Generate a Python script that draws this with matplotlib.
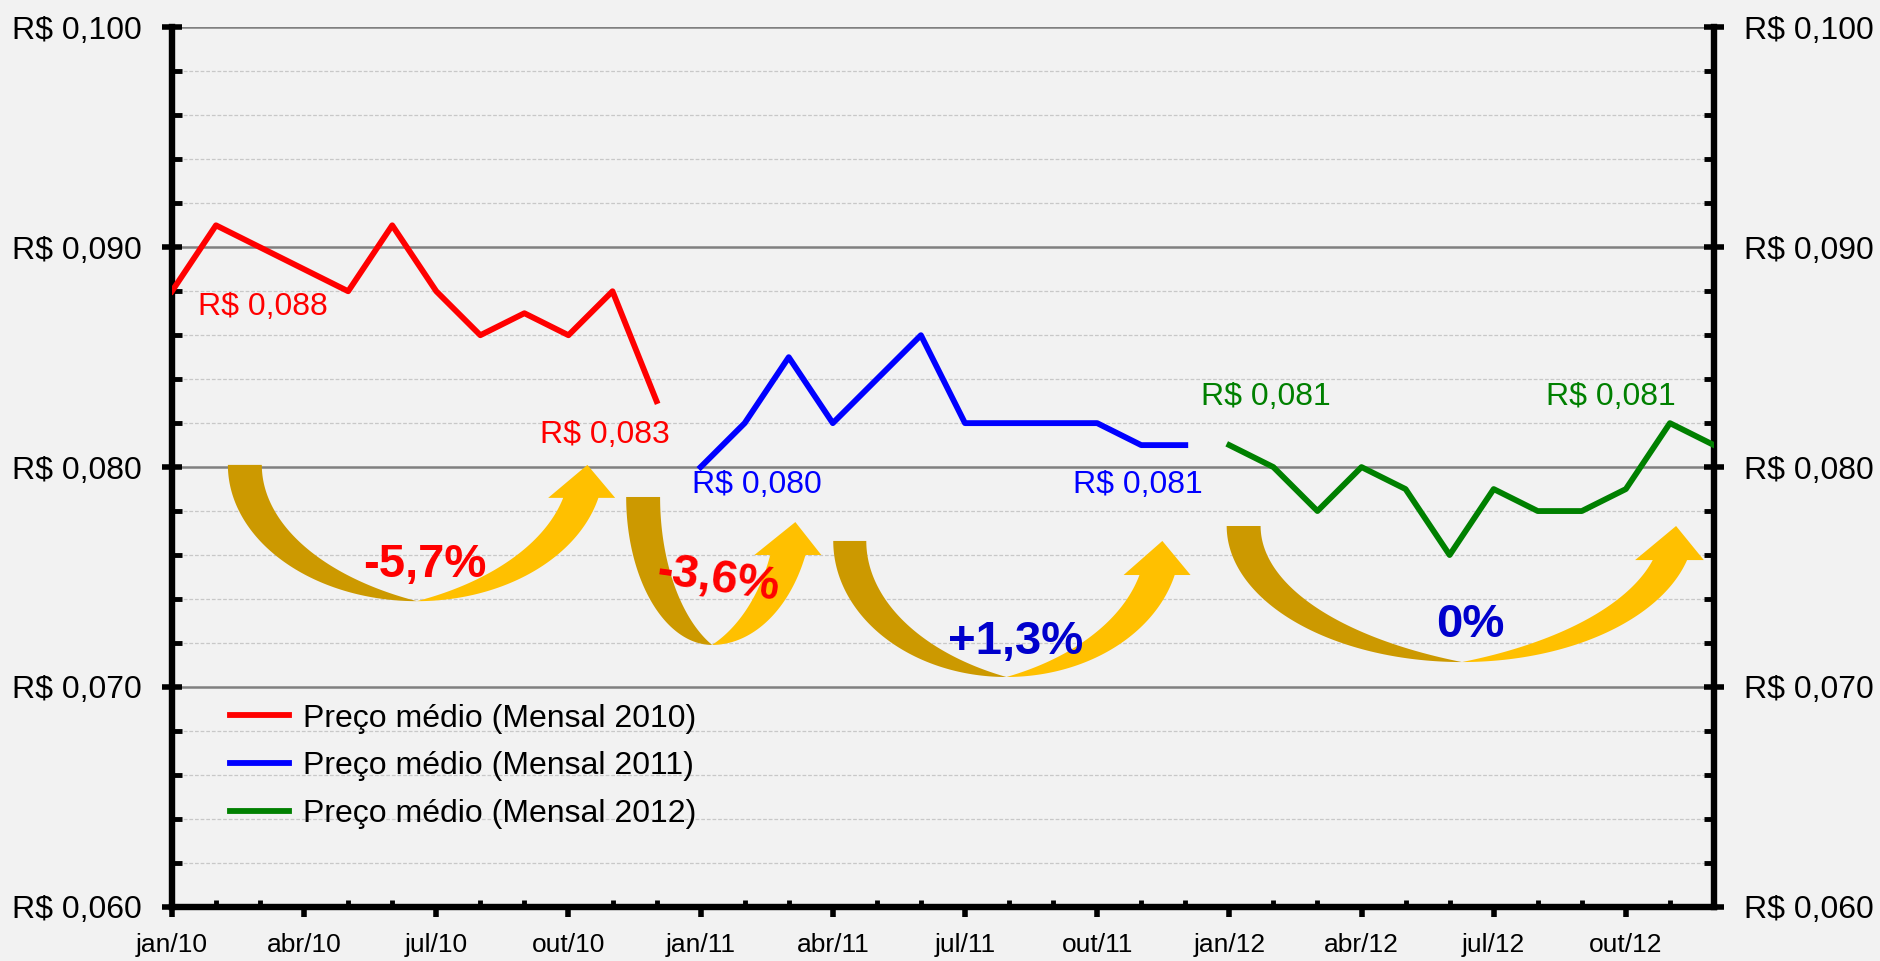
import numpy as np
import matplotlib.pyplot as plt
from matplotlib.ticker import FuncFormatter, MultipleLocator

plt.rcParams['font.family'] = ['Liberation Sans', 'DejaVu Sans']

# -----------------------------
# Dados (preço médio mensal, R$)
# -----------------------------
preco_2010 = [0.088, 0.091, 0.090, 0.089, 0.088, 0.091, 0.088, 0.086, 0.087, 0.086, 0.088, 0.083]
preco_2011 = [0.080, 0.082, 0.085, 0.082, 0.084, 0.086, 0.082, 0.082, 0.082, 0.082, 0.081, 0.081]
preco_2012 = [0.081, 0.080, 0.078, 0.080, 0.079, 0.076, 0.079, 0.078, 0.078, 0.079, 0.082, 0.081]
rotulos_x = ["jan/10", "abr/10", "jul/10", "out/10",
             "jan/11", "abr/11", "jul/11", "out/11",
             "jan/12", "abr/12", "jul/12", "out/12"]
series = ["Preço médio (Mensal 2010)", "Preço médio (Mensal 2011)", "Preço médio (Mensal 2012)"]
variacoes = ["-5,7%", "-3,6%", "+1,3%", "0%"]

fundo = "#F2F2F2"
fig = plt.figure(figsize=(18.81, 9.61), dpi=100, facecolor=fundo)
ax = fig.add_axes([0.0914, 0.0565, 0.8198, 0.9149], facecolor=fundo)

x2010 = np.arange(12)
x2011 = np.arange(12) + 12
x2012 = np.arange(12) + 24

ax.plot(x2010, preco_2010, color="#FF0000", lw=4.2, label=series[0], zorder=4)
ax.plot(x2011, preco_2011, color="#0000FF", lw=4.2, label=series[1], zorder=4)
ax.plot(x2012, preco_2012, color="#008000", lw=4.2, label=series[2], zorder=4)

ax.set_xlim(0, 35)
ax.set_ylim(0.060, 0.100)

# -----------------------------
# Eixos e grade
# -----------------------------
ax.yaxis.set_major_locator(MultipleLocator(0.010))
ax.yaxis.set_minor_locator(MultipleLocator(0.002))
ax.yaxis.set_major_formatter(FuncFormatter(lambda v, p: "R$ " + f"{v:.3f}".replace(".", ",")))
ax.set_xticks(np.arange(0, 36, 3), labels=rotulos_x)
ax.set_xticks(np.arange(36), minor=True)

ax.tick_params(axis="y", which="major", direction="inout", length=15, width=4,
               labelsize=23, pad=14, right=True, labelright=True)
ax.tick_params(axis="y", which="minor", direction="in", length=7, width=3.5, right=True)
ax.tick_params(axis="x", which="major", direction="out", length=7, width=4,
               labelsize=19, pad=12)
ax.tick_params(axis="x", which="minor", direction="in", length=5, width=3.5)

for lado in ["left", "right", "bottom"]:
    ax.spines[lado].set_linewidth(4.6)
    ax.spines[lado].set_color("black")
ax.spines["top"].set_visible(False)

ax.grid(which="major", axis="y", color="#808080", lw=1.8)
ax.grid(which="minor", axis="y", color="#C8C8C8", lw=0.9, ls=(0, (3, 1.5)))
ax.set_axisbelow(True)

# -----------------------------
# Setas curvas (decoração)
# -----------------------------
def seta_curva(ax, xlo, xli, ytop, xbot, ybot, xri, xro, yhb, xh1, xh2, xtip, ytip, k=1.1):
    b = ytop - ybot
    b2 = k * b
    t0 = np.arcsin(1 / k)
    # braço esquerdo (escuro)
    t = np.linspace(0, np.pi / 2, 80)
    lo_x = xbot - (xbot - xlo) * np.cos(t)
    lo_y = ytop - b * np.sin(t)
    a2 = (xbot - xli) / (1 - np.cos(t0))
    xc2 = xli + a2
    ti = np.linspace(0, t0, 80)
    li_x = xc2 - a2 * np.cos(ti)
    li_y = ytop - b2 * np.sin(ti)
    ax.fill(np.concatenate([lo_x, li_x[::-1]]), np.concatenate([lo_y, li_y[::-1]]),
            color="#CC9900", lw=0, zorder=3)

    # braço direito (claro) com a ponta
    th = np.arcsin((ytop - yhb) / b)
    ao = (xro - xbot) / np.cos(th)
    tt = np.linspace(np.pi / 2, th, 80)
    ro_x = xbot + ao * np.cos(tt)
    ro_y = ytop - b * np.sin(tt)
    t1 = np.arcsin((ytop - yhb) / b2)
    ar = (xri - xbot) / (np.cos(t1) - np.cos(t0))
    xcr = xbot - ar * np.cos(t0)
    tr = np.linspace(t1, t0, 80)
    ri_x = xcr + ar * np.cos(tr)
    ri_y = ytop - b2 * np.sin(tr)
    dir_x = np.concatenate([ro_x, [xh2, xtip, xh1], ri_x])
    dir_y = np.concatenate([ro_y, [yhb, ytip, yhb], ri_y])
    ax.fill(dir_x, dir_y, color="#FFC000", lw=0, zorder=3)

seta_curva(ax, 1.27, 2.04, 0.0801, 5.56, 0.0739, 8.88, 9.68, 0.0786, 8.54, 10.06, 9.43, 0.0801)
seta_curva(ax, 10.31, 11.08, 0.07864, 12.26, 0.07191, 13.58, 14.38, 0.0760, 13.22, 14.74, 14.15, 0.0775)
seta_curva(ax, 15.01, 15.76, 0.07664, 18.94, 0.07045, 21.96, 22.76, 0.07509, 21.60, 23.12, 22.48, 0.07664)
seta_curva(ax, 23.94, 24.71, 0.07732, 29.28, 0.07113, 33.61, 34.39, 0.07577, 33.21, 34.77, 34.14, 0.07732)

# -----------------------------
# Rótulos de valores e variações
# -----------------------------
def rotulo(v):
    return "R$ " + f"{v:.3f}".replace(".", ",")

kw = dict(fontsize=23, va="center", ha="left", zorder=5)
ax.text(0.59, 0.08729, rotulo(preco_2010[0]), color="#FF0000", **kw)
ax.text(8.36, 0.08146, rotulo(preco_2010[-1]), color="#FF0000", **kw)
ax.text(11.81, 0.07918, rotulo(preco_2011[0]), color="#0000FF", **kw)
ax.text(20.46, 0.07918, rotulo(preco_2011[-1]), color="#0000FF", **kw)
ax.text(23.35, 0.08319, rotulo(preco_2012[0]), color="#008000", **kw)
ax.text(31.18, 0.08319, rotulo(preco_2012[-1]), color="#008000", **kw)

kp = dict(fontsize=34, fontweight="bold", ha="center", va="center", zorder=5)
ax.text(5.75, 0.07555, variacoes[0], color="#FF0000", **kp)
ax.text(12.38, 0.07486, variacoes[1], color="#FF0000", rotation=-8, **kp)
ax.text(19.15, 0.07204, variacoes[2], color="#0000CC", **kp)
ax.text(29.46, 0.07282, variacoes[3], color="#0000CC", **kp)

ax.legend(loc="upper left", bbox_to_anchor=(0.0376, 0.231), frameon=False, fontsize=23,
          handlelength=1.85, handletextpad=0.45, labelspacing=0.55, borderpad=0,
          borderaxespad=0)

fig.savefig("out.png", dpi=100, facecolor=fundo)
